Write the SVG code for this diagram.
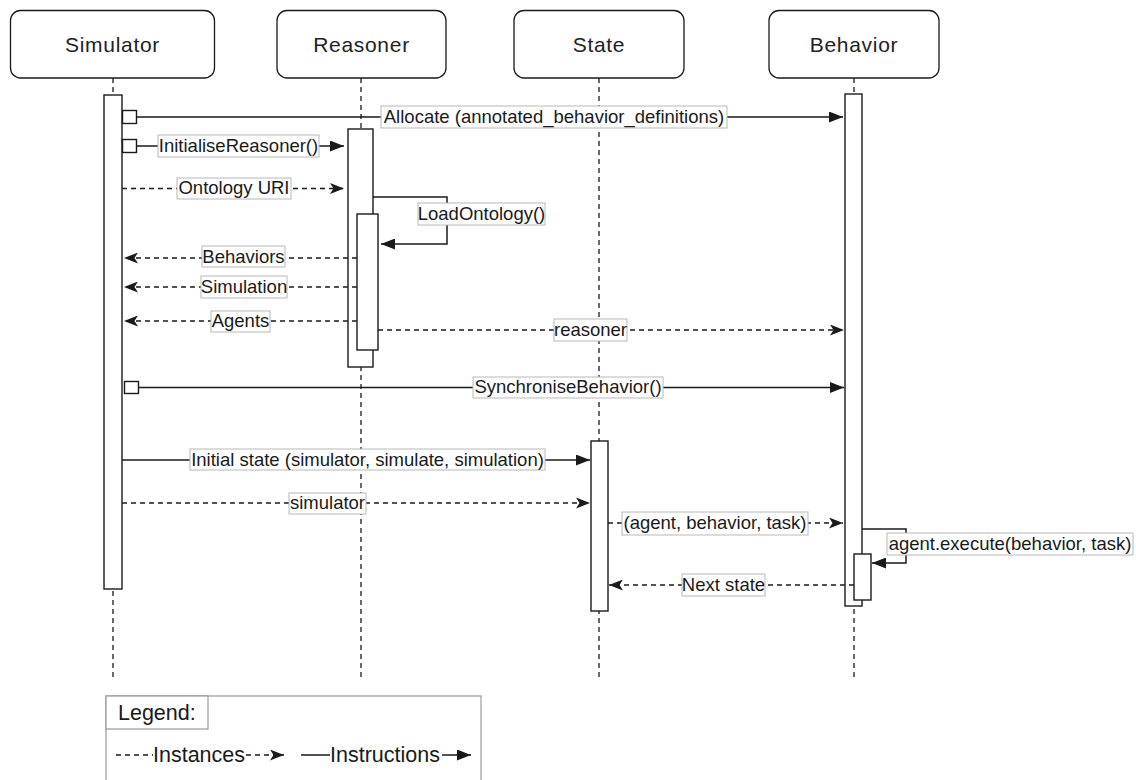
<svg xmlns="http://www.w3.org/2000/svg" width="1136" height="780" viewBox="0 0 1136 780">
  <style>
    .head { fill: #ffffff; stroke: #1a1a1a; stroke-width: 1.3; }
    .head-text { font-family: "Liberation Sans", Arial, sans-serif; font-size: 21px; fill: #222222; text-anchor: middle; letter-spacing: 0.7px; }
    .life { stroke: #1a1a1a; stroke-width: 1.3; stroke-dasharray: 5 4; fill: none; }
    .act { fill: #ffffff; stroke: #1a1a1a; stroke-width: 1.4; }
    .msg { stroke: #1a1a1a; stroke-width: 1.5; fill: none; }
    .ret { stroke: #1a1a1a; stroke-width: 1.4; fill: none; stroke-dasharray: 5 4; }
    .lbl-box { fill: #ffffff; stroke: #b8b8b8; stroke-width: 1; }
    .lbl { font-family: "Liberation Sans", Arial, sans-serif; font-size: 18.5px; fill: #1a1a1a; text-anchor: middle; }
    .leg-text { font-family: "Liberation Sans", Arial, sans-serif; font-size: 21.5px; fill: #1a1a1a; }
    .sq { fill: #ffffff; stroke: #1a1a1a; stroke-width: 1.4; }
    .frame { fill: #ffffff; stroke: #999999; stroke-width: 1.2; }
  </style>
  <defs>
    <marker id="block" markerUnits="userSpaceOnUse" viewBox="0 0 14 11" refX="14" refY="5.5" markerWidth="14" markerHeight="11" orient="auto">
      <path d="M0,0 L14,5.5 L0,11 z" fill="#1a1a1a"/>
    </marker>
    <marker id="classic" markerUnits="userSpaceOnUse" viewBox="0 0 14 11" refX="14" refY="5.5" markerWidth="14" markerHeight="11" orient="auto">
      <path d="M0,0 L14,5.5 L0,11 L3.5,5.5 z" fill="#1a1a1a"/>
    </marker>
  </defs>

  <rect width="1136" height="780" fill="#ffffff"/>

  <!-- lifelines -->
  <g id="lifelines">
    <line class="life" x1="113" y1="78" x2="113" y2="677"/>
    <line class="life" x1="361" y1="78" x2="361" y2="677"/>
    <line class="life" x1="599" y1="78" x2="599" y2="677"/>
    <line class="life" x1="854" y1="78" x2="854" y2="677"/>
  </g>

  <!-- participants -->
  <g id="simulator">
    <rect class="head" x="10.5" y="10.5" width="204" height="67.5" rx="10"/>
    <text class="head-text" x="112.5" y="52">Simulator</text>
    <rect class="act" x="104" y="95" width="18" height="494"/>
  </g>
  <g id="reasoner">
    <rect class="head" x="277" y="10.5" width="169" height="67.5" rx="10"/>
    <text class="head-text" x="361.5" y="52">Reasoner</text>
    <rect class="act" x="348" y="129" width="25" height="238"/>
    <rect class="act" x="357" y="214" width="21" height="136"/>
  </g>
  <g id="state">
    <rect class="head" x="514" y="10.5" width="170" height="67.5" rx="10"/>
    <text class="head-text" x="599" y="52">State</text>
    <rect class="act" x="591" y="441" width="17" height="170"/>
  </g>
  <g id="behavior">
    <rect class="head" x="769" y="10.5" width="170" height="67.5" rx="10"/>
    <text class="head-text" x="854" y="52">Behavior</text>
    <rect class="act" x="845" y="94" width="17" height="512"/>
    <rect class="act" x="854" y="554" width="17" height="46"/>
  </g>

  <!-- messages -->
  <g id="connectors">
    <!-- Allocate -->
    <rect class="sq" x="122.5" y="110.5" width="14" height="13"/>
    <line class="msg" x1="136.5" y1="117" x2="843" y2="117" marker-end="url(#block)"/>
    <!-- InitialiseReasoner -->
    <rect class="sq" x="122.5" y="139.5" width="14" height="13"/>
    <line class="msg" x1="136.5" y1="146" x2="344" y2="146" marker-end="url(#block)"/>
    <!-- Ontology URI -->
    <line class="ret" x1="122" y1="188.5" x2="344" y2="188.5" marker-end="url(#classic)"/>
    <!-- LoadOntology self call -->
    <polyline class="msg" points="373,197 447,197 447,244 381,244" marker-end="url(#block)"/>
    <!-- returns to simulator -->
    <line class="ret" x1="357" y1="258" x2="124" y2="258" marker-end="url(#classic)"/>
    <line class="ret" x1="357" y1="287" x2="124" y2="287" marker-end="url(#classic)"/>
    <line class="ret" x1="357" y1="321" x2="124" y2="321" marker-end="url(#classic)"/>
    <!-- reasoner to behavior -->
    <line class="ret" x1="378" y1="330" x2="844" y2="330" marker-end="url(#classic)"/>
    <!-- SynchroniseBehavior -->
    <rect class="sq" x="124.5" y="381.5" width="14" height="12"/>
    <line class="msg" x1="138.5" y1="387.5" x2="844" y2="387.5" marker-end="url(#block)"/>
    <!-- Initial state -->
    <line class="msg" x1="122" y1="460" x2="590" y2="460" marker-end="url(#block)"/>
    <!-- simulator -->
    <line class="ret" x1="122" y1="503" x2="590" y2="503" marker-end="url(#classic)"/>
    <!-- agent, behavior, task -->
    <line class="ret" x1="608" y1="523" x2="843" y2="523" marker-end="url(#classic)"/>
    <!-- agent.execute self call -->
    <polyline class="msg" points="862,529 906,529 906,563 872,563" marker-end="url(#block)"/>
    <!-- Next state -->
    <line class="ret" x1="854" y1="585" x2="609" y2="585" marker-end="url(#classic)"/>
  </g>

  <!-- message labels -->
  <g id="labels">
    <rect class="lbl-box" x="381" y="106" width="346" height="22"/>
    <text class="lbl" x="554" y="123">Allocate (annotated_behavior_definitions)</text>
    <rect class="lbl-box" x="158" y="135" width="161" height="22"/>
    <text class="lbl" x="238.5" y="152">InitialiseReasoner()</text>
    <rect class="lbl-box" x="177" y="178" width="114" height="21"/>
    <text class="lbl" x="234" y="194">Ontology URI</text>
    <rect class="lbl-box" x="418" y="203" width="127" height="22"/>
    <text class="lbl" x="481.5" y="220">LoadOntology()</text>
    <rect class="lbl-box" x="202" y="246" width="83" height="21"/>
    <text class="lbl" x="243.5" y="263">Behaviors</text>
    <rect class="lbl-box" x="201" y="276" width="86" height="22"/>
    <text class="lbl" x="244" y="293">Simulation</text>
    <rect class="lbl-box" x="211" y="311" width="59" height="21"/>
    <text class="lbl" x="240.5" y="327">Agents</text>
    <rect class="lbl-box" x="554" y="319" width="73" height="22"/>
    <text class="lbl" x="590.5" y="336">reasoner</text>
    <rect class="lbl-box" x="473" y="377" width="190" height="21"/>
    <text class="lbl" x="568" y="393">SynchroniseBehavior()</text>
    <rect class="lbl-box" x="190" y="449" width="355" height="21"/>
    <text class="lbl" x="367.5" y="466">Initial state (simulator, simulate, simulation)</text>
    <rect class="lbl-box" x="289" y="493" width="77" height="21"/>
    <text class="lbl" x="327.5" y="509">simulator</text>
    <rect class="lbl-box" x="622" y="512" width="186" height="23"/>
    <text class="lbl" x="715" y="529">(agent, behavior, task)</text>
    <rect class="lbl-box" x="887" y="533" width="246" height="22"/>
    <text class="lbl" x="1010" y="550">agent.execute(behavior, task)</text>
    <rect class="lbl-box" x="682" y="574" width="83" height="22"/>
    <text class="lbl" x="723.5" y="591">Next state</text>
  </g>

  <!-- legend -->
  <g id="legend">
    <rect class="frame" x="106" y="696" width="375" height="100"/>
    <rect class="frame" x="106" y="696" width="102" height="33"/>
    <text class="leg-text" x="118" y="720">Legend:</text>
    <line class="ret" x1="116" y1="755" x2="153" y2="755"/>
    <text class="leg-text" x="153" y="762">Instances</text>
    <line class="ret" x1="246" y1="755" x2="284" y2="755" marker-end="url(#classic)"/>
    <line class="msg" x1="301" y1="755" x2="330" y2="755"/>
    <text class="leg-text" x="330" y="762">Instructions</text>
    <line class="msg" x1="442" y1="755" x2="471" y2="755" marker-end="url(#block)"/>
  </g>
</svg>
